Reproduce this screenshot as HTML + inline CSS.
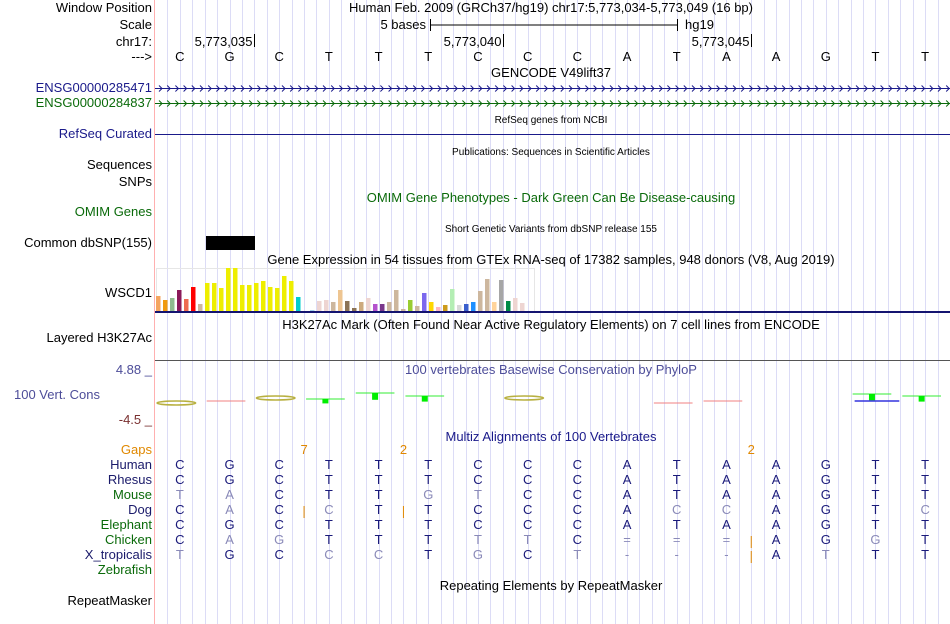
<!DOCTYPE html>
<html><head><meta charset="utf-8">
<style>
body{margin:0;background:#fff;}
svg{display:block;font-family:"Liberation Sans",sans-serif;}
</style></head>
<body>
<svg id="c" width="950" height="624" viewBox="0 0 950 624" xmlns="http://www.w3.org/2000/svg">
<g id="grid"></g>
<line x1="154.5" y1="0" x2="154.5" y2="624" stroke="#ffb0b0"/>
<g font-size="13" text-anchor="end">
<text x="152" y="12" fill="#000">Window Position</text>
<text x="152" y="29" fill="#000">Scale</text>
<text x="152" y="46" fill="#000">chr17:</text>
<text x="152" y="61" fill="#000">---&gt;</text>
<text x="152" y="92" fill="#1a1a8a">ENSG00000285471</text>
<text x="152" y="107" fill="#0a6a0a">ENSG00000284837</text>
<text x="152" y="138" fill="#1a1a8a">RefSeq Curated</text>
<text x="152" y="169" fill="#000">Sequences</text>
<text x="152" y="186" fill="#000">SNPs</text>
<text x="152" y="216" fill="#0a6a0a">OMIM Genes</text>
<text x="152" y="247" fill="#000">Common dbSNP(155)</text>
<text x="152" y="297" fill="#000">WSCD1</text>
<text x="152" y="342" fill="#000">Layered H3K27Ac</text>
<text x="152" y="374" fill="#4d4d99">4.88 _</text>
<text x="100" y="399" fill="#4d4d99">100 Vert. Cons</text>
<text x="152" y="424" fill="#7a3030">-4.5 _</text>
<text x="152" y="454" fill="#e08800">Gaps</text>
<text x="152" y="469" fill="#1a1a6a">Human</text>
<text x="152" y="484" fill="#1a1a6a">Rhesus</text>
<text x="152" y="499" fill="#0a6a0a">Mouse</text>
<text x="152" y="514" fill="#1a1a6a">Dog</text>
<text x="152" y="529" fill="#0a6a0a">Elephant</text>
<text x="152" y="544" fill="#0a6a0a">Chicken</text>
<text x="152" y="559" fill="#1a1a6a">X_tropicalis</text>
<text x="152" y="574" fill="#0a6a0a">Zebrafish</text>
<text x="152" y="605" fill="#000">RepeatMasker</text>
</g>
<g font-size="13" text-anchor="middle">
<text x="551" y="12">Human Feb. 2009 (GRCh37/hg19)   chr17:5,773,034-5,773,049 (16 bp)</text>
<text x="551" y="77">GENCODE V49lift37</text>
<text x="551" y="123" font-size="10">RefSeq genes from NCBI</text>
<text x="551" y="155" font-size="10">Publications: Sequences in Scientific Articles</text>
<text x="551" y="202" fill="#0a6a0a">OMIM Gene Phenotypes - Dark Green Can Be Disease-causing</text>
<text x="551" y="232" font-size="10">Short Genetic Variants from dbSNP release 155</text>
<text x="551" y="264">Gene Expression in 54 tissues from GTEx RNA-seq of 17382 samples, 948 donors (V8, Aug 2019)</text>
<text x="551" y="329">H3K27Ac Mark (Often Found Near Active Regulatory Elements) on 7 cell lines from ENCODE</text>
<text x="551" y="374" fill="#4d4d99">100 vertebrates Basewise Conservation by PhyloP</text>
<text x="551" y="441" fill="#1a1a8a">Multiz Alignments of 100 Vertebrates</text>
<text x="551" y="590">Repeating Elements by RepeatMasker</text>
</g>
<g font-size="13">
<text x="426" y="29" text-anchor="end">5 bases</text>
<line x1="430" y1="25" x2="677" y2="25" stroke="#000"/>
<line x1="430.5" y1="19" x2="430.5" y2="31" stroke="#000"/>
<line x1="677.5" y1="19" x2="677.5" y2="31" stroke="#000"/>
<text x="685" y="29">hg19</text>
</g>
<g id="ruler" font-size="13"></g>
<g id="bases" font-size="13" text-anchor="middle"></g>
<g id="genes"></g>
<rect x="206" y="236" width="49" height="14" fill="#000"/>
<rect x="156.5" y="268.5" width="378" height="43" fill="none" stroke="#e6e6e6"/>
<g id="gtex"></g>
<rect x="155" y="311" width="795" height="2" fill="#141470"/>
<line x1="155" y1="360.5" x2="950" y2="360.5" stroke="#555"/>
<g id="phylop"></g>
<g id="align" font-size="13" text-anchor="middle"></g>
</svg>
<script>
const refBases=["C","G","C","T","T","T","C","C","C","A","T","A","A","G","T","T"];
const rulerLabels=["5,773,035","5,773,040","5,773,045"];
const rulerBaseIdx=[1,6,11];
const gtexValues=[15,11,13,21,12,24,7,28,28,23,43,43,26,26,28,30,24,23,35,30,14,0,1,10,11,9,21,10,3,9,13,7,7,9,21,2,11,5,18,9,4,6,22,6,7,9,20,32,9,31,10,13,8,0];
const gtexColors=["#f4a460","#f09a10","#8fbc8f","#8b1a5a","#ee6a50","#ff0000","#cdb79e","#eeee00","#eeee00","#eeee00","#eeee00","#eeee00","#eeee00","#eeee00","#eeee00","#eeee00","#eeee00","#eeee00","#eeee00","#eeee00","#00cdcd","#a4d3ee","#a4d3ee","#eed5d2","#eed5d2","#cdb79e","#eec591","#8b7355","#8b7355","#cdaa7d","#eed5d2","#b452cd","#7a378b","#cdb79e","#cdb79e","#cdb79e","#9acd32","#cdb79e","#7b68ee","#ffd700","#ffb6c1","#cd9b1d","#b4eeb4","#d9d9d9","#3a5fcd","#1e90ff","#cdb79e","#cdb79e","#ffd39b","#a6a6a6","#008b45","#eed5d2","#eed5d2","#eed5d2"];
const phyTypes=["ell","red","ell","grn","grn","grn","none","ell","none","none","red","red","none","none","grnb","grn"];
const phyValues=[-0.3,-0.1,0.2,0.1,0.7,0.4,0,0.2,0,0,-0.3,-0.1,0,0,0.6,0.4];
const species=["Human","Rhesus","Mouse","Dog","Elephant","Chicken","X_tropicalis"];
const alignSeqs=["CGCTTTCCCATAAGTT","CGCTTTCCCATAAGTT","TACTTGTCCATAAGTT","CACCTTCCCACCAGTC","CGCTTTCCCATAAGTT","CAGTTTTTC===AGGT","TGCCCTGCT---ATTT"];
const gapCounts=["7","2","2"];
const gapAfterIdx=[2.5,4.5,11.5];
const gapRows=[[3],[3],[5,6]];

const NS="http://www.w3.org/2000/svg";
const X0=155,BW=795/16;
const bx=i=>X0+BW*(i+0.5);
function mk(p,tag,a){const e=document.createElementNS(NS,tag);for(const k in a)e.setAttribute(k,a[k]);p.appendChild(e);return e;}
const $=id=>document.getElementById(id);
for(let k=1;k<64;k++){const x=Math.round(X0+k*BW/4)+0.5;const l=mk($("grid"),"line",{x1:x,y1:0,x2:x,y2:624,stroke:"#dcdcf6"});

}
rulerLabels.forEach((t,j)=>{const x=Math.round(X0+BW*(rulerBaseIdx[j]+1))+0.5;
const tx=mk($("ruler"),"text",{x:x-2,y:46,"text-anchor":"end"});tx.textContent=t;


mk($("ruler"),"line",{x1:x,y1:34,x2:x,y2:47,stroke:"#000"});});
refBases.forEach((b,i)=>{const t=mk($("bases"),"text",{x:bx(i),y:61});t.textContent=b;

});
[[88,"#1a1a8a"],[103,"#0a6a0a"],[134,"#1a1a8a"]].forEach(([y,c],j)=>{
mk($("genes"),"line",{x1:155,y1:y+0.5,x2:950,y2:y+0.5,stroke:c});
if(j<2){let d="";for(let x=159;x<948;x+=8.2){d+=`M${x.toFixed(1)},${y-2.5}L${(x+3).toFixed(1)},${y+0.5}L${x.toFixed(1)},${y+3.5}`;}
mk($("genes"),"path",{d:d,stroke:c,fill:"none","stroke-width":1});}});
const gy=v=>311-v;
gtexValues.forEach((v,i)=>{if(v<=0)return;const r=mk($("gtex"),"rect",{x:156+i*7,y:gy(v),width:4.5,height:v,fill:gtexColors[i]});

});
const py=v=>400-v*10;
phyTypes.forEach((t,i)=>{const x1=X0+BW*i+2,x2=X0+BW*(i+1)-9,y=py(phyValues[i]);const g=$("phylop");
if(t==="ell"){mk(g,"ellipse",{cx:(x1+x2)/2,cy:y,rx:(x2-x1)/2,ry:2,fill:"none",stroke:"#b8b040","stroke-width":1.5});}
else if(t==="red"){mk(g,"line",{x1:x1,y1:y,x2:x2,y2:y,stroke:"#f08080"});}
else if(t.startsWith("grn")){mk(g,"line",{x1:x1,y1:y,x2:x2,y2:y,stroke:"#33ee33"});
mk(g,"rect",{x:(x1+x2)/2-3,y:y,width:6,height:4+phyValues[i]*4,fill:"#00ee00"});
if(t==="grnb")mk(g,"line",{x1:x1+2,y1:y+7,x2:x2+8,y2:y+7,stroke:"#3333dd","stroke-width":1.5});}
});
const base=alignSeqs[0];
alignSeqs.forEach((s,r)=>{[...s].forEach((ch,i)=>{const same=(r<2)||ch===base[i];
const t=mk($("align"),"text",{x:bx(i),y:469+r*15,fill:same?"#1a1a7a":"#8a8ab8"});t.textContent=ch;

});});
gapCounts.forEach((g,j)=>{const x=X0+BW*(gapAfterIdx[j]+0.5);
const t=mk($("align"),"text",{x:x,y:454,fill:"#e08800"});t.textContent=g;


gapRows[j].forEach(r=>mk($("align"),"line",{x1:x,y1:459+r*15+2,x2:x,y2:459+r*15+14,stroke:"#e08800"}));});
</script>
</body></html>
